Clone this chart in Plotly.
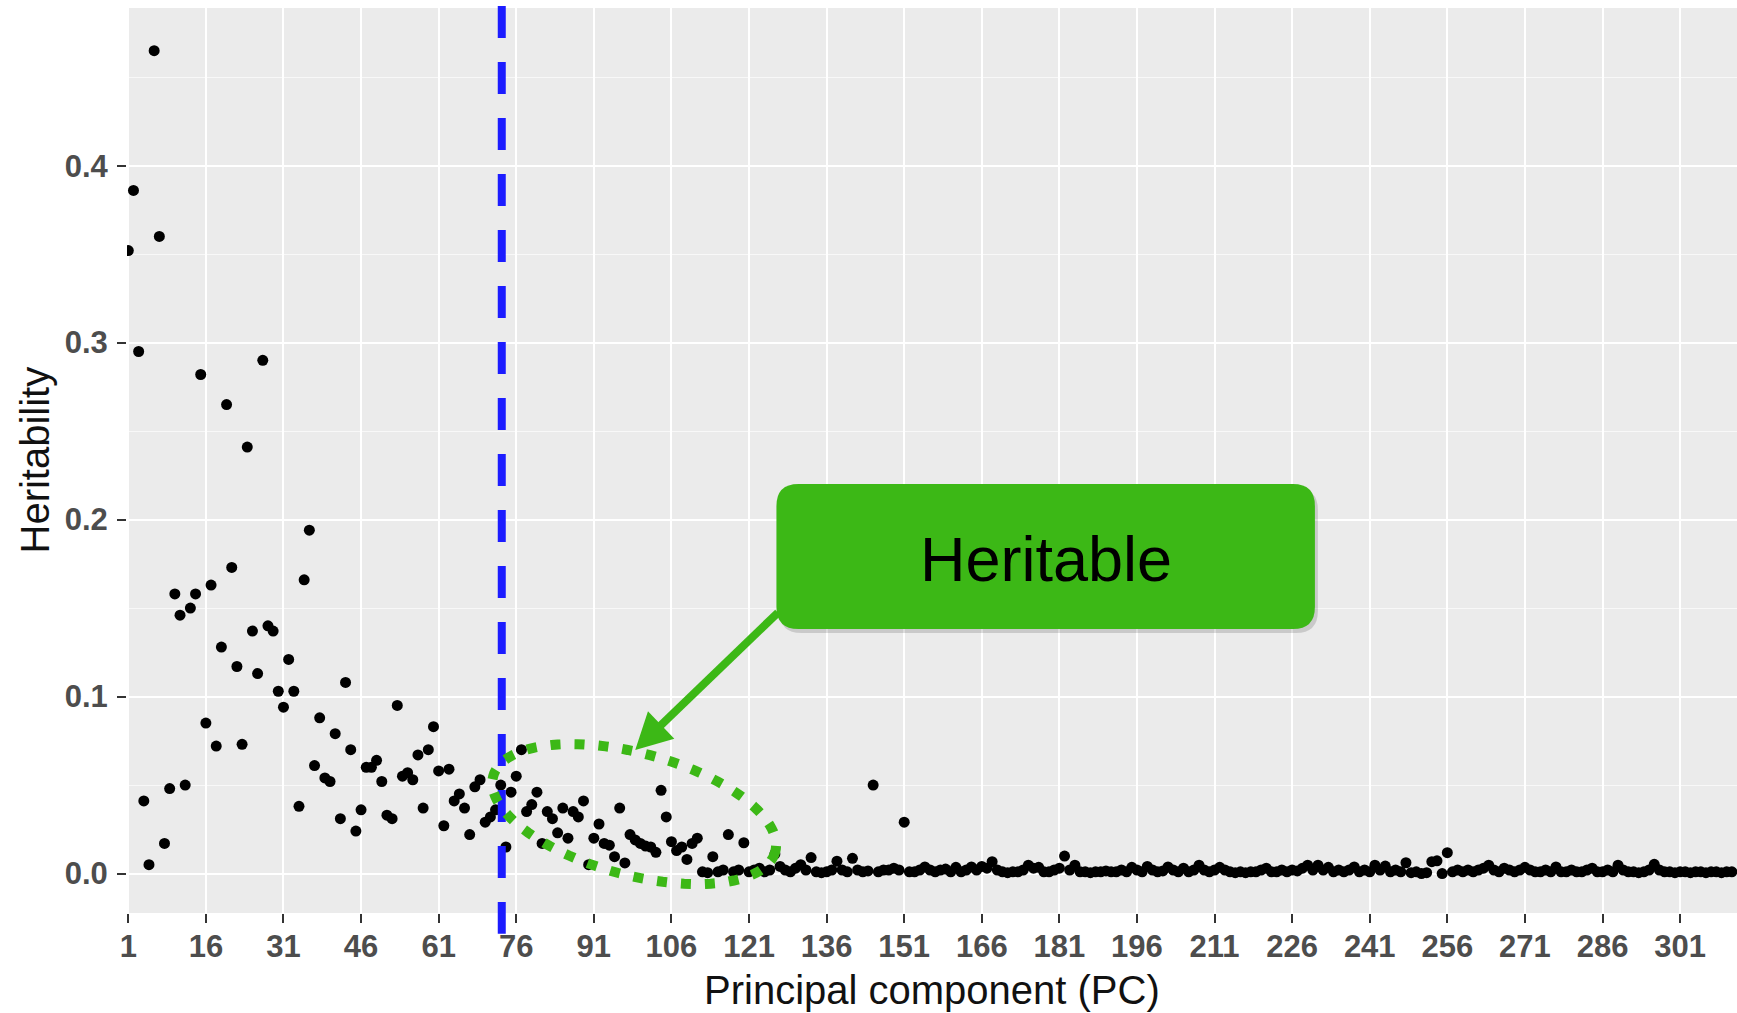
import math
import plotly.graph_objects as go

# Heritability estimated for each principal component (PC1 ... PC311)
heritability = [
    0.352, 0.386, 0.295, 0.041, 0.005, 0.465, 0.360, 0.017, 0.048, 0.158,    # 1-10
    0.146, 0.050, 0.150, 0.158, 0.282, 0.085, 0.163, 0.072, 0.128, 0.265,    # 11-20
    0.173, 0.117, 0.073, 0.241, 0.137, 0.113, 0.290, 0.140, 0.137, 0.103,    # 21-30
    0.094, 0.121, 0.103, 0.038, 0.166, 0.194, 0.061, 0.088, 0.054, 0.052,    # 31-40
    0.079, 0.031, 0.108, 0.070, 0.024, 0.036, 0.060, 0.060, 0.064, 0.052,    # 41-50
    0.033, 0.031, 0.095, 0.055, 0.057, 0.053, 0.067, 0.037, 0.070, 0.083,    # 51-60
    0.058, 0.027, 0.059, 0.041, 0.045, 0.037, 0.022, 0.049, 0.053, 0.029,    # 61-70
    0.032, 0.036, 0.050, 0.015, 0.046, 0.055, 0.070, 0.035, 0.039, 0.046,    # 71-80
    0.017, 0.035, 0.031, 0.023, 0.037, 0.020, 0.035, 0.032, 0.041, 0.005,    # 81-90
    0.020, 0.028, 0.017, 0.016, 0.0095, 0.037, 0.006, 0.022, 0.019, 0.017,   # 91-100
    0.0155, 0.015, 0.012, 0.047, 0.032, 0.018, 0.013, 0.015, 0.008, 0.017,  # 101-110
    0.020, 0.001, 0.0005, 0.0095, 0.001, 0.002, 0.022, 0.001, 0.002, 0.0174,  # 111-120
    0.001, 0.002, 0.003, 0.001, 0.002, 0.011, 0.004, 0.002, 0.001, 0.003,    # 121-130
    0.005, 0.002, 0.009, 0.001, 0.0005, 0.001, 0.002, 0.007, 0.002, 0.001,  # 131-140
    0.0086, 0.002, 0.001, 0.0015, 0.050, 0.001, 0.002, 0.002, 0.003, 0.002, # 141-150
    0.029, 0.001, 0.001, 0.002, 0.0037, 0.002, 0.001, 0.002, 0.0025, 0.001, # 151-160
    0.0035, 0.001, 0.002, 0.0037, 0.002, 0.004, 0.003, 0.0067, 0.002, 0.001, # 161-170
    0.0005, 0.001, 0.001, 0.002, 0.0047, 0.003, 0.0035, 0.001, 0.001, 0.002, # 171-180
    0.003, 0.0099, 0.002, 0.0047, 0.001, 0.001, 0.0005, 0.001, 0.001, 0.0015, # 181-190
    0.001, 0.001, 0.002, 0.001, 0.0035, 0.002, 0.001, 0.004, 0.002, 0.001,  # 191-200
    0.0015, 0.0037, 0.002, 0.001, 0.003, 0.001, 0.002, 0.0047, 0.002, 0.001, # 201-210
    0.002, 0.0035, 0.002, 0.001, 0.0005, 0.001, 0.0005, 0.001, 0.001, 0.002, # 211-220
    0.003, 0.001, 0.001, 0.002, 0.001, 0.002, 0.0015, 0.003, 0.0047, 0.002, # 221-230
    0.0047, 0.002, 0.0035, 0.001, 0.002, 0.001, 0.002, 0.0037, 0.001, 0.002, # 231-240
    0.001, 0.0047, 0.002, 0.0042, 0.001, 0.002, 0.001, 0.0061, 0.0005, 0.001, # 241-250
    0.0, 0.0005, 0.0067, 0.0072, 0.0, 0.0118, 0.001, 0.002, 0.001, 0.002,   # 251-260
    0.001, 0.002, 0.003, 0.0047, 0.002, 0.001, 0.003, 0.002, 0.001, 0.002,  # 261-270
    0.0035, 0.002, 0.001, 0.001, 0.002, 0.001, 0.0037, 0.001, 0.001, 0.002, # 271-280
    0.001, 0.001, 0.002, 0.003, 0.001, 0.001, 0.002, 0.001, 0.0047, 0.002,  # 281-290
    0.001, 0.001, 0.0005, 0.001, 0.002, 0.0052, 0.002, 0.001, 0.001, 0.0005, # 291-300
    0.001, 0.001, 0.0005, 0.001, 0.001, 0.0005, 0.001, 0.001, 0.0005, 0.001, # 301-310
    0.001,                                                                   # 311
]
pc = list(range(1, len(heritability) + 1))

x_tick_values = [1, 16, 31, 46, 61, 76, 91, 106, 121, 136, 151, 166, 181,
                 196, 211, 226, 241, 256, 271, 286, 301]
x_tick_labels = [str(v) for v in x_tick_values]
y_tick_values = [0.0, 0.1, 0.2, 0.3, 0.4]
y_tick_labels = ["0.0", "0.1", "0.2", "0.3", "0.4"]

cutoff_pc = 73.2          # number of PCs retained
callout_text = "Heritable"

# ---------------------------------------------------------------- geometry
FIG_W, FIG_H = 1737, 1013
MARGIN = dict(l=127, r=0, t=8, b=100)
X_RANGE = [0.75, 312.0]
Y_RANGE = [-0.0223, 0.4891]
plot_w = FIG_W - MARGIN["l"] - MARGIN["r"]
plot_h = FIG_H - MARGIN["t"] - MARGIN["b"]
px_x = plot_w / (X_RANGE[1] - X_RANGE[0])   # pixels per PC
px_y = plot_h / (Y_RANGE[1] - Y_RANGE[0])   # pixels per heritability unit

GREEN = "#3CB816"
BLUE = "#1C1CFF"
FONT = "Liberation Sans, Arial, sans-serif"


def to_data(x0, y0, dx_px, dy_px):
    """Offset a data point by a screen distance (dy_px positive = up)."""
    return x0 + dx_px / px_x, y0 + dy_px / px_y


# dotted ellipse around the heritable PCs past the cut-off
ell_cx, ell_cy = 98.8, 0.0336
ell_a, ell_b, ell_tilt = 146, 61, math.radians(15)
ell_pts = []
for k in range(121):
    t = 2 * math.pi * k / 120
    ex = ell_a * math.cos(t) * math.cos(ell_tilt) - ell_b * math.sin(t) * math.sin(ell_tilt)
    ey = -(ell_a * math.cos(t) * math.sin(ell_tilt) + ell_b * math.sin(t) * math.cos(ell_tilt))
    ell_pts.append(to_data(ell_cx, ell_cy, ex, ey))
ellipse_path = "M " + " L ".join(f"{x:.4f},{y:.6f}" for x, y in ell_pts) + " Z"

# arrow from the label box to the ellipse
tip_x, tip_y = 99.0, 0.0698
tail_x, tail_y = 126.6, 0.1475
vx = (tail_x - tip_x) * px_x
vy = (tail_y - tip_y) * px_y
vlen = math.hypot(vx, vy)
ux, uy = vx / vlen, vy / vlen
head_len, head_half = 36, 19
c1 = to_data(tip_x, tip_y, ux * head_len - uy * head_half, uy * head_len + ux * head_half)
c2 = to_data(tip_x, tip_y, ux * head_len + uy * head_half, uy * head_len - ux * head_half)
shaft_end = to_data(tip_x, tip_y, ux * (head_len - 2), uy * (head_len - 2))
head_path = (f"M {tip_x:.4f},{tip_y:.6f} L {c1[0]:.4f},{c1[1]:.6f} "
             f"L {c2[0]:.4f},{c2[1]:.6f} Z")

# rounded label box
box_x0, box_x1 = 126.3, 230.4
box_y0, box_y1 = 0.1382, 0.2201


def rounded_rect(x0, x1, y0, y1, r_px):
    rx, ry = r_px / px_x, r_px / px_y
    return (f"M {x0 + rx},{y1} L {x1 - rx},{y1} Q {x1},{y1} {x1},{y1 - ry} "
            f"L {x1},{y0 + ry} Q {x1},{y0} {x1 - rx},{y0} "
            f"L {x0 + rx},{y0} Q {x0},{y0} {x0},{y0 + ry} "
            f"L {x0},{y1 - ry} Q {x0},{y1} {x0 + rx},{y1} Z")


sh_dx, sh_dy = 3 / px_x, -4 / px_y

shapes = [
    # cut-off line
    dict(type="line", xref="x", yref="paper", x0=cutoff_pc, x1=cutoff_pc,
         y0=1 + 2 / plot_h, y1=-20.7 / plot_h, layer="above",
         line=dict(color=BLUE, width=8, dash="32px,24px")),
    # ellipse
    dict(type="path", xref="x", yref="y", path=ellipse_path, layer="above",
         line=dict(color=GREEN, width=10, dash="10px,14px")),
    # arrow
    dict(type="line", xref="x", yref="y", x0=tail_x, y0=tail_y,
         x1=shaft_end[0], y1=shaft_end[1], layer="above",
         line=dict(color=GREEN, width=8)),
    dict(type="path", xref="x", yref="y", path=head_path, layer="above",
         fillcolor=GREEN, line=dict(width=0)),
    # box shadow and box
    dict(type="path", xref="x", yref="y", layer="above",
         path=rounded_rect(box_x0 + sh_dx, box_x1 + sh_dx, box_y0 + sh_dy, box_y1 + sh_dy, 22),
         fillcolor="rgba(0,0,0,0.14)", line=dict(width=0)),
    dict(type="path", xref="x", yref="y", layer="above",
         path=rounded_rect(box_x0, box_x1, box_y0, box_y1, 22),
         fillcolor=GREEN, line=dict(width=0)),
]

fig = go.Figure()
fig.add_trace(go.Scatter(
    x=pc, y=heritability, mode="markers",
    marker=dict(color="black", size=11, line=dict(width=0)),
    showlegend=False, hoverinfo="x+y",
))

annotations = [
    dict(x=(box_x0 + box_x1) / 2, y=0.178, xref="x", yref="y", text=callout_text,
         showarrow=False, xanchor="center", yanchor="middle",
         font=dict(family=FONT, size=63, color="black")),
    dict(x=0.5, y=-77 / plot_h, xref="paper", yref="paper",
         text="Principal component (PC)", showarrow=False,
         xanchor="center", yanchor="middle",
         font=dict(family=FONT, size=40, color="#111111")),
    dict(x=(34 - MARGIN["l"]) / plot_w, y=0.5, xref="paper", yref="paper",
         text="Heritability", textangle=-90, showarrow=False,
         xanchor="center", yanchor="middle",
         font=dict(family=FONT, size=40, color="#111111")),
]

tick_font = dict(family=FONT, size=31, color="#4D4D4D", weight="bold")

fig.update_layout(
    width=FIG_W, height=FIG_H, margin=MARGIN,
    paper_bgcolor="white", plot_bgcolor="#EBEBEB",
    shapes=shapes, annotations=annotations,
    xaxis=dict(
        range=X_RANGE, tickmode="array", tickvals=x_tick_values, ticktext=x_tick_labels,
        showgrid=True, gridcolor="white", gridwidth=2.4, zeroline=False, showline=False,
        ticks="outside", ticklen=9, tickwidth=2, tickcolor="#333333",
        tickfont=tick_font, ticklabelstandoff=-3,
    ),
    yaxis=dict(
        range=Y_RANGE, tickmode="array", tickvals=y_tick_values, ticktext=y_tick_labels,
        showgrid=True, gridcolor="white", gridwidth=2.4, zeroline=False, showline=False,
        ticks="outside", ticklen=9, tickwidth=2, tickcolor="#333333",
        tickfont=tick_font, ticklabelstandoff=3,
        minor=dict(tick0=0, dtick=0.05, showgrid=True, gridcolor="#F8F8F8",
                   gridwidth=1.3, ticks=""),
    ),
)

fig.write_html("out.html")
